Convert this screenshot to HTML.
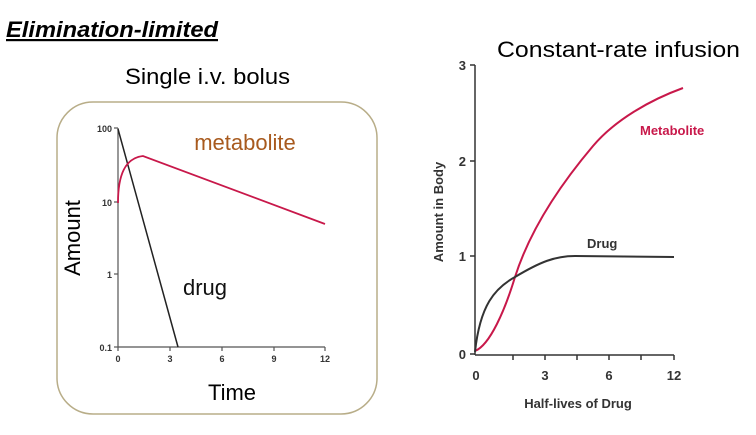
<!DOCTYPE html>
<html><head><style>
body{margin:0;width:756px;height:430px;background:#fff;overflow:hidden;font-family:"Liberation Sans",sans-serif}
</style></head><body>
<svg width="756" height="430" xmlns="http://www.w3.org/2000/svg" font-family="Liberation Sans, sans-serif">
<text x="6" y="37" font-size="22" font-weight="bold" font-style="italic" text-decoration="underline" textLength="212" lengthAdjust="spacingAndGlyphs">Elimination-limited</text>
<text x="125" y="84" font-size="22" textLength="165" lengthAdjust="spacingAndGlyphs">Single i.v. bolus</text>
<text x="497" y="57" font-size="22" textLength="243" lengthAdjust="spacingAndGlyphs">Constant-rate infusion</text>
<rect x="57" y="102" width="320" height="312" rx="36" fill="#fff" stroke="#b8ad88" stroke-width="1.5"/>
<g stroke="#555" stroke-width="1.2" fill="none">
<line x1="118" y1="128" x2="118" y2="347"/>
<line x1="118" y1="347" x2="325" y2="347"/>
<line x1="114" y1="128" x2="118" y2="128"/><line x1="114" y1="202" x2="118" y2="202"/><line x1="114" y1="274" x2="118" y2="274"/><line x1="114" y1="347" x2="118" y2="347"/>
<line x1="170" y1="347" x2="170" y2="351"/><line x1="222" y1="347" x2="222" y2="351"/><line x1="274" y1="347" x2="274" y2="351"/><line x1="325" y1="347" x2="325" y2="351"/><line x1="118" y1="347" x2="118" y2="351"/>
</g>
<g font-size="9" font-weight="bold" fill="#333">
<text x="112" y="132" text-anchor="end">100</text><text x="112" y="206" text-anchor="end">10</text><text x="112" y="278" text-anchor="end">1</text><text x="112" y="351" text-anchor="end">0.1</text>
<text x="118" y="362" text-anchor="middle">0</text><text x="170" y="362" text-anchor="middle">3</text><text x="222" y="362" text-anchor="middle">6</text><text x="274" y="362" text-anchor="middle">9</text><text x="325" y="362" text-anchor="middle">12</text>
</g>
<line x1="118" y1="129" x2="178" y2="347" stroke="#222" stroke-width="1.5"/>
<path d="M118,203 C118,175 125,158 143,156 L325,224" stroke="#c8184a" stroke-width="1.8" fill="none"/>
<text x="245" y="150" font-size="22" fill="#a85a1e" text-anchor="middle">metabolite</text>
<text x="205" y="295" font-size="22" fill="#111" text-anchor="middle">drug</text>
<text transform="translate(80,238) rotate(-90)" font-size="22" text-anchor="middle">Amount</text>
<text x="232" y="400" font-size="22" text-anchor="middle">Time</text>
<g stroke="#333" stroke-width="1.5" fill="none">
<line x1="475" y1="65" x2="475" y2="355"/>
<line x1="475" y1="355" x2="674" y2="355"/>
<line x1="470" y1="65" x2="475" y2="65"/><line x1="470" y1="161" x2="475" y2="161"/><line x1="470" y1="256" x2="475" y2="256"/><line x1="470" y1="354" x2="475" y2="354"/>
<line x1="513" y1="355" x2="513" y2="360"/><line x1="545" y1="355" x2="545" y2="360"/><line x1="577" y1="355" x2="577" y2="360"/><line x1="609" y1="355" x2="609" y2="360"/><line x1="641" y1="355" x2="641" y2="360"/><line x1="674" y1="355" x2="674" y2="360"/>
</g>
<g font-size="13" font-weight="bold" fill="#333">
<text x="466" y="70" text-anchor="end">3</text><text x="466" y="166" text-anchor="end">2</text><text x="466" y="261" text-anchor="end">1</text><text x="466" y="359" text-anchor="end">0</text>
<text x="476" y="380" text-anchor="middle">0</text><text x="545" y="380" text-anchor="middle">3</text><text x="609" y="380" text-anchor="middle">6</text><text x="674" y="380" text-anchor="middle">12</text>
</g>
<text x="578" y="408" font-size="13" font-weight="bold" fill="#333" text-anchor="middle">Half-lives of Drug</text>
<text transform="translate(443,212) rotate(-90)" font-size="13" font-weight="bold" fill="#333" text-anchor="middle">Amount in Body</text>
<path d="M475,351 C490,345 505,310 515,277 C530,230 560,185 593,146 C615,120 650,100 683,88" stroke="#c8184a" stroke-width="2" fill="none"/>
<path d="M475,352 C480,305 495,288 515,277 C540,262 555,256 575,256 L674,257" stroke="#333" stroke-width="2" fill="none"/>
<text x="640" y="135" font-size="13" font-weight="bold" fill="#c8184a">Metabolite</text>
<text x="587" y="248" font-size="13" font-weight="bold" fill="#333">Drug</text>
</svg>
</body></html>
